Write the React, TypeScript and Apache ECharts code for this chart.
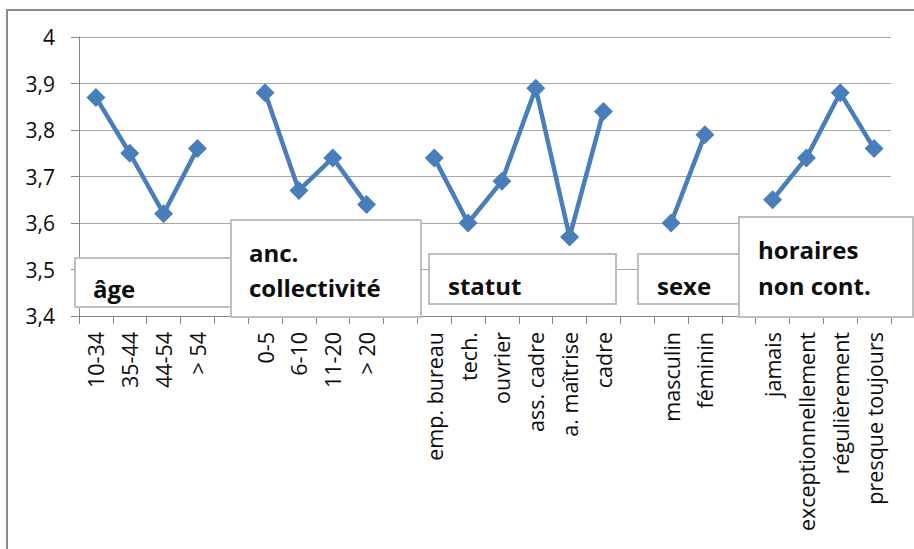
import React, { useEffect, useRef } from "react";
import * as echarts from "echarts";

const categories = [
  "10-34", "35-44", "44-54", "> 54", " ",
  "0-5", "6-10", "11-20", "> 20", "  ",
  "emp. bureau", "tech.", "ouvrier", "ass. cadre", "a. maîtrise", "cadre", "   ",
  "masculin", "féminin", "    ",
  "jamais", "exceptionnellement", "régulièrement", "presque toujours",
];

const values: (number | null)[] = [
  3.87, 3.75, 3.62, 3.76, null,
  3.88, 3.67, 3.74, 3.64, null,
  3.74, 3.60, 3.69, 3.89, 3.57, 3.84, null,
  3.60, 3.79, null,
  3.65, 3.74, 3.88, 3.76,
];

const yMin = 3.4;
const yMax = 4;
const yStep = 0.1;

const groupAge = ["âge"];
const groupAnc = ["anc.", "collectivité"];
const groupStatut = ["statut"];
const groupSexe = ["sexe"];
const groupHoraires = ["horaires", "non cont."];

const FONT = "'Open Sans', 'Noto Sans', sans-serif";
const BLUE = "#4a7ebb";

function box(x: number, y: number, w: number, h: number, lines: string[], tx: number, ty: number[], z: number) {
  const els: any[] = [
    {
      type: "rect",
      shape: { x, y, width: w, height: h },
      style: { fill: "#ffffff", stroke: "#bfbfbf", lineWidth: 2 },
      z,
      silent: true,
    },
  ];
  lines.forEach((t, i) => {
    els.push({
      type: "text",
      x: tx,
      y: ty[i],
      z: z + 1,
      silent: true,
      style: {
        text: t,
        font: `bold 24px ${FONT}`,
        fill: "#0d0d0d",
        textAlign: "left",
        textVerticalAlign: "middle",
      },
    });
  });
  return els;
}

export default function App() {
  const ref = useRef<HTMLDivElement>(null);
  useEffect(() => {
    if (!ref.current) return;
    const chart = echarts.init(ref.current, undefined, { renderer: "svg" });
    chart.setOption({
      animation: false,
      backgroundColor: "#ffffff",
      grid: { left: 79, right: 23, top: 37, bottom: 233, containLabel: false },
      xAxis: {
        type: "category",
        data: categories,
        boundaryGap: true,
        axisLine: { show: true, lineStyle: { color: "#868686", width: 1 } },
        axisTick: { show: true, interval: 0, length: 8, lineStyle: { color: "#868686" } },
        axisLabel: {
          interval: 0,
          rotate: 90,
          margin: 16,
          fontFamily: FONT,
          fontSize: 21.5,
          color: "#0d0d0d",
        },
        splitLine: { show: false },
      },
      yAxis: {
        type: "value",
        min: yMin,
        max: yMax,
        interval: yStep,
        axisLine: { show: true, lineStyle: { color: "#868686", width: 1 } },
        axisTick: { show: true, length: 8, lineStyle: { color: "#868686" } },
        axisLabel: {
          margin: 24,
          fontFamily: FONT,
          fontSize: 21,
          color: "#0d0d0d",
          formatter: (v: number) => {
            const r = Math.round(v * 10) / 10;
            return Number.isInteger(r) ? String(r) : r.toFixed(1).replace(".", ",");
          },
        },
        splitLine: { show: true, lineStyle: { color: "#a6a6a6", width: 1 } },
      },
      series: [
        {
          type: "line",
          data: values,
          connectNulls: false,
          symbol: "diamond",
          symbolSize: 19,
          lineStyle: { color: BLUE, width: 4.5 },
          itemStyle: { color: BLUE },
          z: 3,
        },
      ],
      graphic: [
        {
          type: "rect",
          shape: { x: 7, y: 10, width: 1000, height: 1000 },
          style: { fill: "none", stroke: "#8c8c8c", lineWidth: 2 },
          silent: true,
          z: 1,
        },
        ...box(75, 258, 160, 49, groupAge, 93, [288], 10),
        ...box(231, 220, 190, 97, groupAnc, 249, [252, 287], 12),
        ...box(429, 254, 187, 50, groupStatut, 448, [285], 14),
        ...box(638, 254, 110, 50, groupSexe, 657, [285], 16),
        ...box(739, 217, 174, 100, groupHoraires, 758, [249, 285], 18),
      ],
    });
    return () => chart.dispose();
  }, []);
  return (
    <div
      ref={ref}
      style={{ position: "fixed", left: 0, top: 0, width: 914, height: 549 }}
    />
  );
}
